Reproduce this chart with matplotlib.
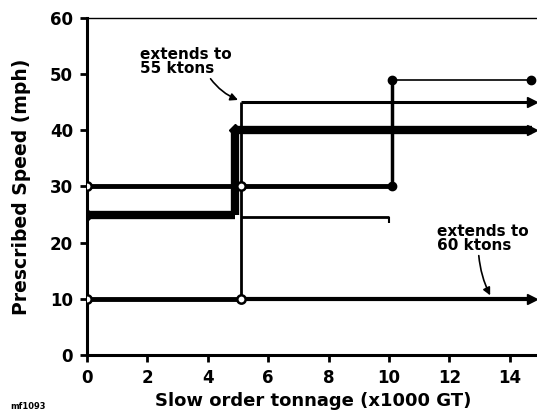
import matplotlib.pyplot as plt

# speed rules (tonnage in 1000 GT, speed in mph)
rule1_x = [0, 10.1, 10.1, 14.7]
rule1_y = [30, 30, 49, 49]
rule2_x = [0, 4.9, 4.9, 14.75]
rule2_y = [25, 25, 40, 40]
rule3_x = [0, 5.1, 5.1, 14.75]
rule3_y = [10, 10, 45, 45]
rule4_x = [5.1, 14.75]
rule4_y = [10, 10]
rule5_x = [5.1, 10.0]
rule5_y = [24.6, 24.6]

x_ticks = [0, 2, 4, 6, 8, 10, 12, 14]
y_ticks = [0, 10, 20, 30, 40, 50, 60]


def draw_steps(ax, xs, ys, widths):
    for i in range(len(xs) - 1):
        ax.plot(xs[i:i + 2], ys[i:i + 2], color="black", lw=widths[i],
                solid_capstyle="butt", zorder=3)


plt.rcParams["font.family"] = ["DejaVu Sans"]
fig = plt.figure(figsize=(5.37, 4.18), dpi=100)
ax = fig.add_axes([0.162, 0.151, 0.8436, 0.806])

draw_steps(ax, rule1_x, rule1_y, [3.5, 2.5, 1.2])
draw_steps(ax, rule2_x, rule2_y, [6, 6, 6])
draw_steps(ax, rule3_x, rule3_y, [3.5, 2, 2.2])
draw_steps(ax, rule4_x, rule4_y, [3])
draw_steps(ax, rule5_x, rule5_y, [2])

# end markers
ax.plot(rule1_x[1:], rule1_y[1:], "o", color="black", ms=6, zorder=4)
ax.plot([rule2_x[0], rule2_x[2]], [rule2_y[0], rule2_y[2]], "D", color="black", ms=6, zorder=4)
ax.plot([rule1_x[0], rule3_x[1]], [rule1_y[0], rule1_y[0]], "o", mfc="white",
        mec="black", mew=1.8, ms=6, zorder=5)
ax.plot([rule3_x[0], rule3_x[1]], [rule3_y[0], rule3_y[1]], "o", mfc="white",
        mec="black", mew=1.8, ms=6, zorder=5)
ax.plot([rule2_x[-1], rule3_x[-1], rule4_x[-1]], [rule2_y[-1], rule3_y[-1], rule4_y[-1]],
        ">", color="black", ms=7, zorder=4, clip_on=False)
ax.plot([rule5_x[-1]], [rule5_y[-1]], marker=3, color="black", ms=4, mew=1.5, zorder=4)

ax.annotate("extends to\n55 ktons", xy=(5.0, 45.4), xytext=(1.75, 54.8),
            ha="left", va="top", fontsize=11, fontweight="bold", linespacing=0.9,
            arrowprops=dict(arrowstyle="-|>", color="black", lw=1.2,
                            shrinkA=0, shrinkB=0, relpos=(0.75, 0),
                            connectionstyle="arc3,rad=0.15"),
            zorder=6)
ax.annotate("extends to\n60 ktons", xy=(13.35, 10.6), xytext=(11.6, 23.3),
            ha="left", va="top", fontsize=11, fontweight="bold", linespacing=0.9,
            arrowprops=dict(arrowstyle="-|>", color="black", lw=1.2,
                            shrinkA=0, shrinkB=0, relpos=(0.45, 0),
                            connectionstyle="arc3,rad=0.1"),
            zorder=6)

ax.set_xlim(0, 15)
ax.set_ylim(0, 60)
ax.set_xticks(x_ticks)
ax.set_yticks(y_ticks)
ax.set_xticklabels([str(t) for t in x_ticks], fontweight="bold", fontsize=12)
ax.set_yticklabels([str(t) for t in y_ticks], fontweight="bold", fontsize=12)
ax.tick_params(direction="out", length=5, width=2, pad=5, colors="black")

ax.spines["left"].set_linewidth(2.2)
ax.spines["bottom"].set_linewidth(2.2)
ax.spines["top"].set_linewidth(1.0)
ax.spines["right"].set_visible(False)

ax.set_xlabel("Slow order tonnage (x1000 GT)", fontweight="bold", fontsize=13, labelpad=4)
ax.set_ylabel("Prescribed Speed (mph)", fontweight="bold", fontsize=13.5, labelpad=14)

fig.text(0.02, 0.022, "mf1093", fontsize=6, fontweight="bold", color="black")

fig.savefig("out.png", dpi=100)
